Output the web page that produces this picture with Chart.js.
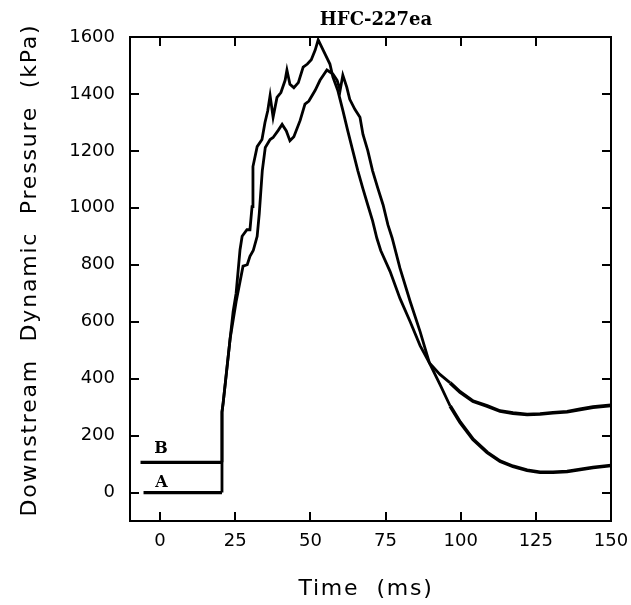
<!DOCTYPE html>
<html>
<head>
<meta charset="utf-8">
<script src="https://cdn.jsdelivr.net/npm/chart.js@4.4.1/dist/chart.umd.min.js"></script>
<style>
  body { margin: 0; background: #fff; }
  #wrap { width: 631px; height: 605px; }
</style>
</head>
<body>
<div id="wrap"><canvas id="chart" width="631" height="605"></canvas></div>
<script>
// tick labels
var xTicks = [0, 25, 50, 75, 100, 125, 150];
var yTicks = [0, 200, 400, 600, 800, 1000, 1200, 1400, 1600];

// curve B (starts at ~106 kPa), time in ms, pressure in kPa
var timeB = [-6.5, 20.6, 20.6, 21.0, 23.3, 24.3, 25.3, 26.6, 27.3, 28.9, 29.9, 30.6, 30.9, 32.3, 33.9, 34.9, 35.8,
    36.6, 37.6, 38.9, 40.2, 41.6, 42.2, 43.2, 44.5, 46.0, 47.6, 49.0, 50.3, 51.6, 52.6, 54.9, 56.5, 57.5, 59.1,
    60.8, 62.4, 64.1, 65.8, 67.4, 69.1, 70.7, 72.1, 73.4, 76.5, 79.8, 83.2, 86.5, 89.6, 93.1, 96.5, 99.8, 104.1,
    108.8, 113.1, 117.4, 122.1, 126.4, 130.7, 135.4, 139.7, 144.0, 150];
var pressB = [106, 106, 283, 316, 540, 635, 700, 853, 900, 923, 923, 1004, 1145, 1215, 1240, 1300, 1340,
    1394, 1318, 1388, 1405, 1448, 1484, 1434, 1422, 1440, 1494, 1505, 1520, 1554, 1590, 1540, 1505, 1459, 1413,
    1342, 1272, 1201, 1130, 1070, 1010, 954, 894, 850, 777, 682, 600, 516, 455, 415, 385, 353, 321,
    304, 286, 279, 274, 276, 280, 284, 292, 300, 306];

// curve A (starts at 0 kPa)
var timeA = [-5.5, 20.6, 20.6, 21.0, 23.3, 25.3, 27.6, 29.0, 29.9, 31.0, 32.3, 33.0, 34.0, 35.0, 36.6, 37.6,
    39.3, 40.6, 42.0, 43.2, 44.5, 46.6, 48.2, 49.5, 51.6, 53.2, 55.5, 57.5, 58.9, 59.9, 60.8, 62.1, 63.1, 64.8,
    66.5, 67.5, 69.1, 70.7, 72.4, 74.2, 75.8, 77.2, 79.8, 83.2, 86.5, 89.6, 93.1, 96.5, 99.8, 104.1, 108.8,
    113.1, 117.4, 122.1, 126.4, 130.7, 135.4, 139.7, 144.0, 150];
var pressA = [0, 0, 283, 316, 540, 670, 795, 800, 830, 850, 900, 980, 1130, 1212, 1240, 1247,
    1272, 1293, 1270, 1236, 1250, 1307, 1364, 1375, 1413, 1448, 1484, 1470, 1448, 1413, 1466, 1424, 1381, 1346,
    1318, 1258, 1201, 1130, 1070, 1010, 940, 894, 788, 671, 565, 455, 380, 304, 247, 187, 141,
    110, 92, 78, 71, 71, 74, 81, 88, 95];

function toPoints(xs, ys) {
    return xs.map(function (x, i) { return { x: x, y: ys[i] }; });
}

// the noisy baseline and tail look thicker in the original trace
function segWidth(ctx) {
    var x0 = ctx.p0.parsed.x, x1 = ctx.p1.parsed.x;
    if (x1 <= 20.6 && x0 < 20.6) return 3.2;
    if (x0 >= 96) return 3.6;
    return 2.8;
}

Chart.defaults.font.family = 'DejaVu Sans';
Chart.defaults.font.size = 18;
Chart.defaults.color = '#000';

// frame, inward ticks and the texts
var decorations = {
    id: 'decorations',
    afterDraw: function (chart) {
        var ctx = chart.ctx;
        var a = chart.chartArea;
        var xs = chart.scales.x, ys = chart.scales.y;
        var tl = 9;
        ctx.save();
        ctx.strokeStyle = '#000';
        ctx.lineWidth = 2;
        ctx.strokeRect(a.left, a.top, a.right - a.left, a.bottom - a.top);
        ctx.beginPath();
        xTicks.forEach(function (v) {
            var px = Math.round(xs.getPixelForValue(v));
            ctx.moveTo(px, a.bottom); ctx.lineTo(px, a.bottom - tl);
            ctx.moveTo(px, a.top); ctx.lineTo(px, a.top + tl);
        });
        yTicks.forEach(function (v) {
            var py = Math.round(ys.getPixelForValue(v));
            ctx.moveTo(a.left, py); ctx.lineTo(a.left + tl, py);
            ctx.moveTo(a.right, py); ctx.lineTo(a.right - tl, py);
        });
        ctx.stroke();

        ctx.fillStyle = '#000';
        // title
        ctx.font = 'bold 18px "DejaVu Serif"';
        ctx.textAlign = 'center';
        ctx.textBaseline = 'alphabetic';
        ctx.fillText('HFC-227ea', 376, 25);

        // curve labels
        ctx.font = 'bold 16px "DejaVu Serif"';
        ctx.fillText('B', xs.getPixelForValue(0.3), ys.getPixelForValue(140));
        ctx.fillText('A', xs.getPixelForValue(0.5), ys.getPixelForValue(21));

        // axis titles
        ctx.font = '22px "DejaVu Sans"';
        ctx.letterSpacing = '1.7px';
        ctx.fillText('Time  (ms)', 366, 595);
        ctx.translate(36, 270);
        ctx.rotate(-Math.PI / 2);
        ctx.letterSpacing = '1.8px';
        ctx.fillText('Downstream  Dynamic  Pressure  (kPa)', 0, 0);
        ctx.restore();
    }
};

var chart = new Chart(document.getElementById('chart'), {
    type: 'scatter',
    data: {
        datasets: [{
            label: 'A',
            data: toPoints(timeA, pressA),
            showLine: true,
            borderColor: '#000',
            borderWidth: 2.8,
            segment: { borderWidth: segWidth },
            pointRadius: 0,
            tension: 0
        }, {
            label: 'B',
            data: toPoints(timeB, pressB),
            showLine: true,
            borderColor: '#000',
            borderWidth: 2.8,
            segment: { borderWidth: segWidth },
            pointRadius: 0,
            tension: 0
        }]
    },
    options: {
        responsive: false,
        animation: false,
        layout: { padding: { left: 0, top: 37, right: 20, bottom: 0 } },
        plugins: {
            legend: { display: false },
            tooltip: { enabled: false }
        },
        scales: {
            x: {
                type: 'linear',
                min: -10,
                max: 150,
                grid: { display: false, drawTicks: false },
                border: { display: false },
                ticks: { padding: 10, maxRotation: 0, callback: function (v) { return String(v); } },
                afterBuildTicks: function (s) { s.ticks = xTicks.map(function (v) { return { value: v }; }); },
                afterFit: function (s) { s.height = 84; s.paddingLeft = 0; s.paddingRight = 18; }
            },
            y: {
                type: 'linear',
                min: -100,
                max: 1600,
                grid: { display: false, drawTicks: false },
                border: { display: false },
                ticks: { padding: 15, callback: function (v) { return String(v); } },
                afterBuildTicks: function (s) { s.ticks = yTicks.map(function (v) { return { value: v }; }); },
                afterFit: function (s) { s.width = 130; s.paddingTop = 0; s.paddingBottom = 0; }
            }
        }
    },
    plugins: [decorations]
});
</script>
</body>
</html>
